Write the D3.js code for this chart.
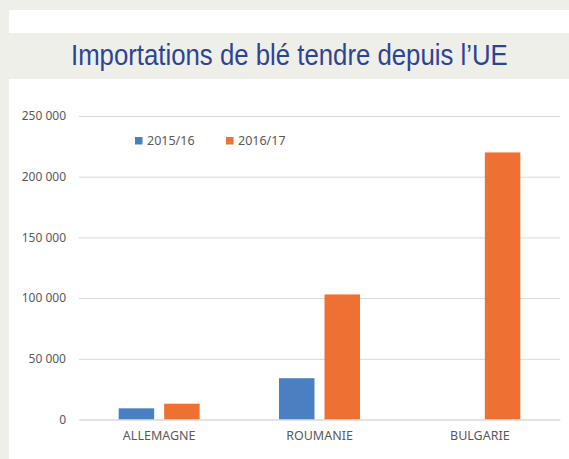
<!DOCTYPE html>
<html>
<head>
<meta charset="utf-8">
<script src="https://cdn.jsdelivr.net/npm/d3@7"></script>
<style>
  body { margin: 0; background: #efefea; }
  svg { display: block; }
</style>
</head>
<body>
<div id="vis"></div>
<script>
// data
const CATEGORIES = ["ALLEMAGNE", "ROUMANIE", "BULGARIE"];
const SERIES = ["2015/16", "2016/17"];
const VALUES_2015 = [9200, 34000, 0];
const VALUES_2016 = [13000, 103000, 220000];
const Y_TICKS = [0, 50000, 100000, 150000, 200000, 250000];
const COLORS = ["#4a7fc1", "#ee7033"];

const FRAME_WIDTH = 569;
const FRAME_HEIGHT = 459;
const MARGINS = {left: 79, right: 9, top: 116, bottom: 39.5};
const VIS_WIDTH = FRAME_WIDTH - MARGINS.left - MARGINS.right;
const VIS_HEIGHT = FRAME_HEIGHT - MARGINS.top - MARGINS.bottom;

const SVG = d3.select("#vis")
    .append("svg")
    .attr("width", FRAME_WIDTH)
    .attr("height", FRAME_HEIGHT);

// background panels
SVG.append("rect").attr("x", 0).attr("y", 0)
    .attr("width", FRAME_WIDTH).attr("height", FRAME_HEIGHT).attr("fill", "#efefea");
SVG.append("rect").attr("x", 9).attr("y", 10)
    .attr("width", FRAME_WIDTH - 9).attr("height", 23).attr("fill", "#ffffff");
SVG.append("rect").attr("x", 9).attr("y", 79)
    .attr("width", FRAME_WIDTH - 9).attr("height", FRAME_HEIGHT - 79).attr("fill", "#ffffff");

// title, squeezed horizontally to look condensed
const title = SVG.append("text")
    .attr("font-family", "'Liberation Sans', Arial, sans-serif")
    .attr("font-size", "30px")
    .attr("fill", "#2d4494")
    .text("Importations de blé tendre depuis l’UE");
const tw = title.node().getComputedTextLength();
title.attr("transform", "translate(71,65) scale(" + (437 / tw) + ",1)");

const X0 = d3.scaleBand()
    .domain(CATEGORIES)
    .range([0, VIS_WIDTH])
    .paddingInner(0.495)
    .paddingOuter(0.2475);
const X1 = d3.scaleBand()
    .domain(SERIES)
    .range([0, X0.bandwidth()])
    .paddingInner(0.22);
const Y_SCALE = d3.scaleLinear()
    .domain([0, 250000])
    .range([VIS_HEIGHT, 0]);

const G = SVG.append("g")
    .attr("transform", "translate(" + MARGINS.left + "," + MARGINS.top + ")");

// gridlines
const fmt = (d) => d3.format(",")(d).replace(",", " ");
const yAxis = G.append("g")
    .call(d3.axisLeft(Y_SCALE).tickValues(Y_TICKS).tickSize(-VIS_WIDTH).tickPadding(13).tickFormat(fmt));
yAxis.select(".domain").remove();
yAxis.selectAll(".tick line").attr("stroke", "#d9d9d9").attr("stroke-width", 1);
yAxis.selectAll(".tick text")
    .attr("fill", "#595959")
    .attr("font-family", "'Noto Sans', sans-serif")
    .attr("font-size", "12px");

// bars
const rows = CATEGORIES.map((c, i) => ({cat: c, vals: [VALUES_2015[i], VALUES_2016[i]]}));
const groups = G.selectAll(".grp")
    .data(rows)
    .enter()
    .append("g")
    .attr("transform", (d) => "translate(" + X0(d.cat) + ",0)");
groups.selectAll("rect")
    .data((d) => d.vals.map((v, j) => ({s: SERIES[j], v: v, j: j})))
    .enter()
    .append("rect")
    .attr("x", (d) => X1(d.s))
    .attr("y", (d) => Y_SCALE(d.v))
    .attr("width", X1.bandwidth())
    .attr("height", (d) => VIS_HEIGHT - Y_SCALE(d.v))
    .attr("fill", (d) => COLORS[d.j]);

// category axis
const xAxis = G.append("g")
    .attr("transform", "translate(0," + VIS_HEIGHT + ")")
    .call(d3.axisBottom(X0).tickSize(0).tickPadding(12));
xAxis.select(".domain").attr("stroke", "#d9d9d9");
xAxis.selectAll(".tick text")
    .attr("fill", "#595959")
    .attr("font-family", "'Noto Sans', sans-serif")
    .attr("font-size", "12.5px");

// legend
const LEGEND_X = [135, 226];
const legend = SVG.selectAll(".leg")
    .data(SERIES)
    .enter()
    .append("g")
    .attr("transform", (d, i) => "translate(" + LEGEND_X[i] + ",137)");
legend.append("rect")
    .attr("width", 7.5).attr("height", 7.5)
    .attr("fill", (d, i) => COLORS[i]);
legend.append("text")
    .attr("x", 12)
    .attr("y", 8)
    .attr("fill", "#595959")
    .attr("font-family", "'Noto Sans', sans-serif")
    .attr("font-size", "12.5px")
    .text((d) => d);
</script>
</body>
</html>
